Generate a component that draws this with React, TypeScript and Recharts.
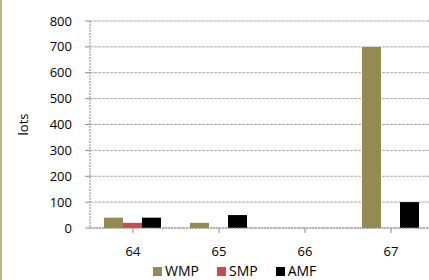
import { BarChart, Bar, XAxis, YAxis, CartesianGrid, Legend } from 'recharts';

const CATEGORIES = ['64', '65', '66', '67'];
const WMP = [40, 20, 0, 700];
const SMP = [20, 0, 0, 0];
const AMF = [40, 50, 0, 100];
const Y_TICKS = [0, 100, 200, 300, 400, 500, 600, 700, 800];
const SERIES = [
  { key: 'WMP', color: '#948a54' },
  { key: 'SMP', color: '#c0504d' },
  { key: 'AMF', color: '#000000' },
];

const data = CATEGORIES.map((c, i) => ({ name: c, WMP: WMP[i], SMP: SMP[i], AMF: AMF[i] }));

const FONT = "'Open Sans', 'Liberation Sans', sans-serif";
const tickStyle = { fill: '#000', fontSize: 13, fontFamily: FONT };

function LegendBox() {
  return (
    <div style={{ display: 'flex', alignItems: 'center', fontFamily: FONT, fontSize: 14, lineHeight: '19px', color: '#000' }}>
      {SERIES.map((s) => (
        <div key={s.key} style={{ display: 'flex', alignItems: 'center', marginRight: 18 }}>
          <span style={{ display: 'inline-block', width: 9, height: 9, background: s.color, marginRight: 3, marginTop: 2 }} />
          <span>{s.key}</span>
        </div>
      ))}
    </div>
  );
}

export default function App() {
  return (
    <div
      style={{
        position: 'fixed',
        left: 0,
        top: 0,
        width: 429,
        height: 280,
        overflow: 'hidden',
        background: '#fff',
      }}
    >
      <div style={{ position: 'absolute', left: 0, top: 0, width: 2, height: 280, background: '#bcb684' }} />
      <BarChart
        width={440}
        height={280}
        data={data}
        margin={{ top: 21, right: 6, bottom: 22, left: 0 }}
        barCategoryGap={14}
        barGap={0}
      >
        <CartesianGrid vertical={false} stroke="#a8a8a8" strokeDasharray="3 1" />
        <XAxis
          dataKey="name"
          height={30}
          tick={tickStyle}
          tickSize={5}
          tickMargin={14}
          axisLine={{ stroke: '#8c8c8c', strokeDasharray: '2 1' }}
          tickLine={{ stroke: '#8c8c8c' }}
        />
        <YAxis
          width={90}
          domain={[0, 800]}
          ticks={Y_TICKS}
          interval={0}
          tick={tickStyle}
          tickSize={5}
          tickMargin={13}
          axisLine={{ stroke: '#8c8c8c', strokeDasharray: '2 1' }}
          tickLine={{ stroke: '#8c8c8c' }}
          label={{
            content: (props: any) => {
              const vb = props.viewBox || { x: 0, y: 0, height: 0 };
              const cx = vb.x + 23;
              const cy = vb.y + vb.height / 2;
              return (
                <text
                  x={cx}
                  y={cy}
                  transform={`rotate(-90 ${cx} ${cy})`}
                  textAnchor="middle"
                  dominantBaseline="central"
                  fontSize={13}
                  fontFamily={FONT}
                  fill="#000"
                >
                  lots
                </text>
              );
            },
          }}
        />
        <Legend
          verticalAlign="middle"
          align="center"
          content={() => <LegendBox />}
          wrapperStyle={{ top: 261, left: 153, width: 200 }}
        />
        {SERIES.map((s) => (
          <Bar key={s.key} dataKey={s.key} name={s.key} fill={s.color} isAnimationActive={false} />
        ))}
      </BarChart>
    </div>
  );
}
